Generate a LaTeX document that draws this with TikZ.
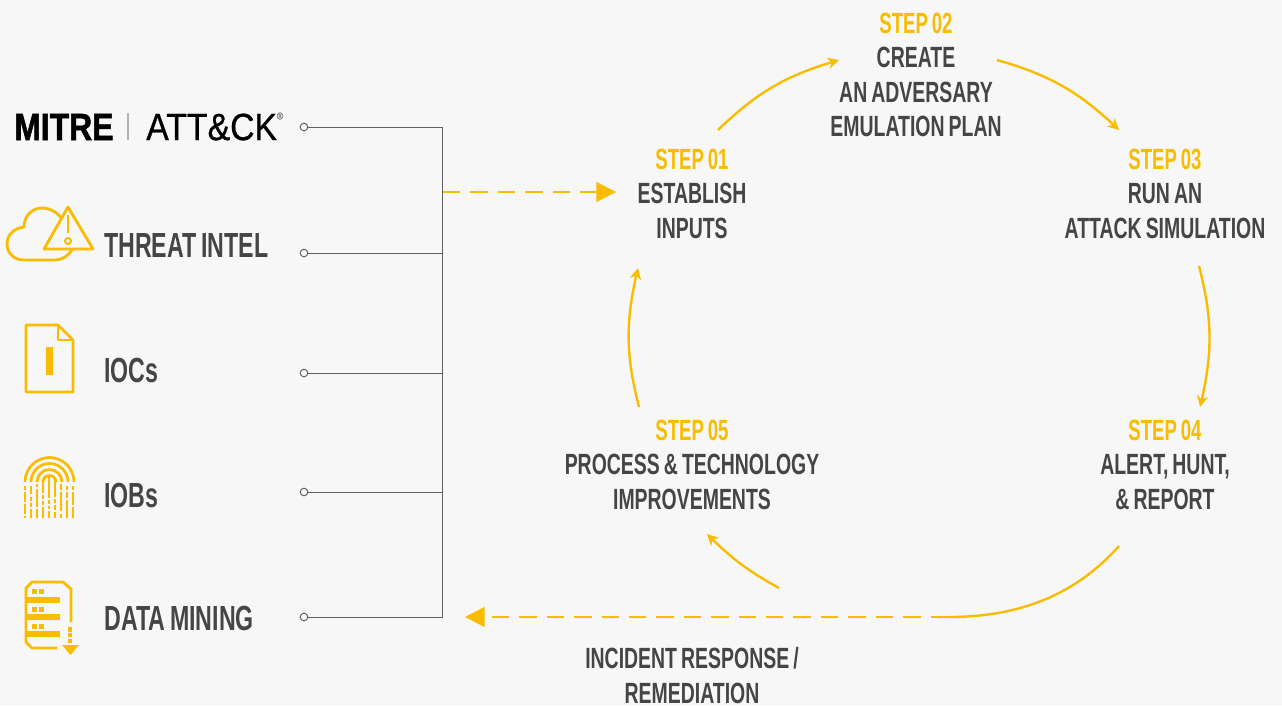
\documentclass[tikz,border=0pt]{standalone}
\usepackage{fontspec}
\usetikzlibrary{arrows.meta,bending}
\newfontfamily\dinfont[FakeStretch=0.665,WordSpace=0.75]{Liberation Sans}
\newfontfamily\headfont[FakeStretch=0.635,WordSpace=0.75]{Liberation Sans}
\newfontfamily\mitrefont[FakeStretch=0.84,FakeBold=1.4]{Liberation Sans}
\newfontfamily\attckfont[FakeStretch=0.89,FakeBold=0.7]{Liberation Sans}
\definecolor{pagegrey}{HTML}{F7F7F7}
\definecolor{stepyellow}{HTML}{F9BC00}
\definecolor{inkgrey}{HTML}{454547}
\definecolor{busgrey}{HTML}{5F5F5F}
\tikzset{
  steptext/.style={inner sep=0pt,align=center,text=inkgrey,font=\dinfont\bfseries\fontsize{20.8}{24.5}\selectfont},
  sourcetext/.style={inner sep=0pt,anchor=west,text=inkgrey,font=\dinfont\bfseries\fontsize{24.8}{28}\selectfont},
  port/.style={circle,draw=busgrey,fill=pagegrey,line width=0.7pt,inner sep=0pt,minimum size=5.4pt},
  bus/.style={draw=busgrey,line width=0.7pt},
  cyclearrow/.style={draw=stepyellow,line width=1.7pt,-{Stealth[length=8pt,width=8pt,bend]}},
  feed/.style={draw=stepyellow,line width=1.7pt,dash pattern=on 12.4pt off 7.1pt,-{Triangle[length=14pt,width=14pt]}},
  icon/.style={draw=stepyellow,line width=2pt,line join=round},
  ridge/.style={draw=stepyellow,line width=1.9pt}
}
\newcommand{\stephead}[1]{\textcolor{stepyellow}{\headfont\bfseries STEP #1}}
\begin{document}
\begin{tikzpicture}[x=0.025cm,y=0.025cm]
\fill [pagegrey] (0,0) rectangle (1282,-706);
\useasboundingbox (0,0) rectangle (1282,-706);
% sources
\node [inner sep=0pt,anchor=west,font=\mitrefont\bfseries\fontsize{27}{27}\selectfont] (mitre) at (14,-127) {MITRE};
\node [inner sep=0pt,anchor=west,font=\attckfont\fontsize{27}{27}\selectfont] (attck) at (146,-127) {ATT\&CK};
\node [inner sep=0pt,text=gray,font=\attckfont\fontsize{7}{7}\selectfont] (regmark) at (280,-116) {\textregistered};
\draw [gray!60,line width=0.8pt] (128,-113) -- (128,-140);
\node [sourcetext] (threat) at (104,-245) {THREAT INTEL};
\node [sourcetext] (iocs) at (104,-370) {IOCs};
\node [sourcetext] (iobs) at (104,-495) {IOBs};
\node [sourcetext] (mining) at (104,-618) {DATA MINING};
% cloud and warning sign
\draw [icon] (62,-219) .. controls (57,-212) and (50,-208) .. (42,-208) .. controls (32,-208) and (24,-216) .. (24,-227) .. controls (14,-228) and (7,-235) .. (7,-244) .. controls (7,-253) and (14,-260) .. (24,-260) -- (55,-260) .. controls (62,-260) and (68,-256) .. (72,-250);
\draw [icon] (68,-207) -- (44,-249) -- (93,-249) -- cycle;
\draw [icon] (68,-215) -- (68,-233);
\draw [icon,line width=1.4pt] (68,-241) circle (3);
% document
\draw [icon] (26,-325) -- (58,-325) -- (73,-340) -- (73,-392) -- (26,-392) -- cycle;
\draw [icon] (58,-325) -- (58,-340) -- (73,-340);
\fill [stepyellow] (46,-347) rectangle (53,-375);
% fingerprint
\draw [ridge] (25,-482) arc (180:0:24.5);
\draw [ridge] (31,-482) arc (180:0:18.5);
\draw [ridge] (37,-482) arc (180:0:12.5);
\draw [ridge] (43,-482) arc (180:0:6.5);
\draw [ridge,dash pattern=on 3pt off 1.5pt on 7pt off 1.5pt on 7pt off 1.5pt] (25,-486) -- (25,-518);
\draw [ridge,dash pattern=on 6pt off 1.5pt on 3pt off 1.5pt on 3pt off 1.5pt] (31,-486) -- (31,-518);
\draw [ridge,dash pattern=on 2pt off 1.5pt on 13pt off 1.5pt on 6pt off 1.5pt] (37,-484) -- (37,-518);
\draw [ridge,dash pattern=on 9pt off 1.5pt on 3pt off 1.5pt on 3pt off 1.5pt] (43,-480) -- (43,-518);
\draw [ridge,dash pattern=on 16pt off 1.5pt on 3pt off 1.5pt on 2pt off 1.5pt] (49,-475) -- (49,-518);
\draw [ridge,dash pattern=on 12pt off 1.5pt on 3pt off 1.5pt on 3pt off 1.5pt] (55,-480) -- (55,-518);
\draw [ridge,dash pattern=on 4pt off 1.5pt on 14pt off 1.5pt] (61,-484) -- (61,-518);
\draw [ridge,dash pattern=on 3pt off 1.5pt on 4pt off 1.5pt on 14pt off 1.5pt] (67,-486) -- (67,-518);
\draw [ridge,dash pattern=on 3pt off 1.5pt on 9pt off 1.5pt on 9pt off 1.5pt] (73,-486) -- (73,-518);
% data list
\draw [icon] (57,-648) -- (32,-648) -- (26,-642) -- (26,-588) -- (32,-582) -- (63,-582) -- (71,-589) -- (71,-622);
\fill [stepyellow] (26,-597) rectangle (60,-603);
\fill [stepyellow] (26,-614) rectangle (60,-620);
\fill [stepyellow] (26,-631) rectangle (60,-637);
\fill [stepyellow] (32,-589) rectangle (37,-594);
\fill [stepyellow] (39,-589) rectangle (44,-594);
\fill [stepyellow] (32,-607) rectangle (37,-612);
\fill [stepyellow] (39,-607) rectangle (44,-612);
\fill [stepyellow] (32,-624) rectangle (37,-629);
\fill [stepyellow] (39,-624) rectangle (44,-629);
\fill [stepyellow] (68,-627) rectangle (72,-632);
\fill [stepyellow] (68,-633) rectangle (72,-637);
\fill [stepyellow] (68,-639) rectangle (72,-643);
\fill [stepyellow] (62,-645) -- (79,-645) -- (70.5,-655) -- cycle;
% ports and bus
\node [port] (pmitre) at (304,-127) {};
\node [port] (pthreat) at (304,-253) {};
\node [port] (piocs) at (304,-373) {};
\node [port] (piobs) at (304,-492) {};
\node [port] (pmining) at (304,-617) {};
\coordinate (bmitre) at (442,-127);
\coordinate (bthreat) at (442,-253);
\coordinate (biocs) at (442,-373);
\coordinate (biobs) at (442,-492);
\coordinate (bmining) at (442,-617);
\draw [bus] (pmitre) -- (bmitre) -- (bmining) -- (pmining);
\draw [bus] (pthreat) -- (bthreat);
\draw [bus] (piocs) -- (biocs);
\draw [bus] (piobs) -- (biobs);
% steps
\node [steptext] (stepa) at (692,-193.5) {\stephead{01}\\ESTABLISH\\INPUTS};
\node [steptext] (stepb) at (916,-75) {\stephead{02}\\CREATE\\AN ADVERSARY\\EMULATION PLAN};
\node [steptext] (stepc) at (1165,-193.5) {\stephead{03}\\RUN AN\\ATTACK SIMULATION};
\node [steptext] (stepd) at (1165,-464.5) {\stephead{04}\\ALERT, HUNT,\\\& REPORT};
\node [steptext] (stepe) at (692,-464.5) {\stephead{05}\\PROCESS \& TECHNOLOGY\\IMPROVEMENTS};
\node [steptext] (incident) at (692,-675.5) {INCIDENT RESPONSE /\\REMEDIATION};
% cycle arrows
\coordinate (aout) at (718,-130);
\coordinate (bin) at (839,-60);
\coordinate (bout) at (997,-60);
\coordinate (cin) at (1119,-130);
\coordinate (cout) at (1199,-266);
\coordinate (din) at (1200,-407);
\coordinate (dout) at (1119,-546);
\coordinate (dbend) at (948,-617);
\coordinate (eout) at (779,-588);
\coordinate (ein) at (707,-534);
\coordinate (fout) at (639,-407);
\coordinate (ain) at (638,-268);
\coordinate (busout) at (443,-192);
\coordinate (busin) at (616,-192);
\coordinate (backin) at (465,-617);
\draw [cyclearrow] (aout) to [bend left=14] (bin);
\draw [cyclearrow] (bout) to [bend left=14] (cin);
\draw [cyclearrow] (cout) to [bend left=14] (din);
\draw [cyclearrow] (eout) to [bend left=8] (ein);
\draw [cyclearrow] (fout) to [bend left=14] (ain);
\draw [stepyellow,line width=1.7pt] (dout) .. controls (1075,-595) and (1020,-617) .. (dbend);
\draw [feed] (busout) -- (busin);
\draw [feed] (dbend) -- (backin);
\end{tikzpicture}
\end{document}
